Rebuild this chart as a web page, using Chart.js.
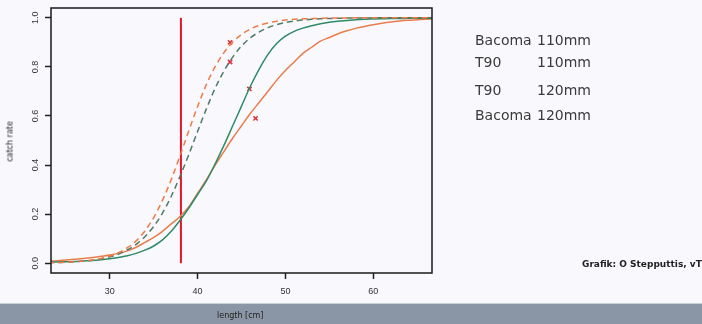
<!DOCTYPE html>
<html>
<head>
<meta charset="utf-8">
<script src="https://cdn.jsdelivr.net/npm/chart.js@4"></script>
<style>
  body { margin: 0; background: #f9f9fd; }
  #wrap { position: relative; width: 702px; height: 324px; overflow: hidden; font-family: "DejaVu Sans", sans-serif; }
  #chart { position: absolute; left: 0; top: 0; }
  .leg { position: absolute; font-size: 14px; color: #3a3a3a; line-height: 14px; white-space: nowrap; }
  .band { position: absolute; left: 0; top: 303px; width: 702px; height: 21px; background: #8a96a5; border-top: 1px solid #c9cfd7; }
  .small { position: absolute; white-space: nowrap; color: #333; }
</style>
</head>
<body>
<div id="wrap">
  <div class="band"></div>
  <canvas id="chart" width="702" height="324"></canvas>
  <div class="leg" style="left:475px;top:33px">Bacoma</div><div class="leg" style="left:537px;top:33px">110mm</div>
  <div class="leg" style="left:475px;top:55px">T90</div><div class="leg" style="left:537px;top:55px">110mm</div>
  <div class="leg" style="left:475px;top:83px">T90</div><div class="leg" style="left:537px;top:83px">120mm</div>
  <div class="leg" style="left:475px;top:108px">Bacoma</div><div class="leg" style="left:537px;top:108px">120mm</div>
  <div class="small" style="left:582px;top:259px;font-size:9px;font-weight:bold;color:#222">Grafik: O Stepputtis, vTI</div>
  <div class="small" style="left:217px;top:311px;font-size:8px;color:#222">length [cm]</div>
  <div class="small" style="left:-14px;top:137px;font-size:8px;transform:rotate(-90deg);width:48px;text-align:center;color:#222">catch rate</div>
</div>
<script>
// length classes (cm) and read-off catch rates
const lengthCm = [23, 24, 25, 26, 27, 28, 29, 30, 31, 32, 33, 34, 35, 36, 37, 38, 39, 40, 41, 42, 43, 44, 45,
  46, 47, 48, 49, 50, 51, 52, 53, 54, 55, 56, 57, 58, 59, 60, 61, 62, 63, 64, 65, 66, 67];
const bacoma110 = [0.002, 0.003, 0.004, 0.006, 0.009, 0.013, 0.019, 0.029, 0.043, 0.063, 0.091, 0.131, 0.186, 0.256,
  0.341, 0.438, 0.540, 0.639, 0.728, 0.801, 0.858, 0.901, 0.932, 0.954, 0.969, 0.979, 0.986, 0.991, 0.994, 0.996,
  0.997, 0.998, 0.999, 0.999, 0.999, 1, 1, 1, 1, 1, 1, 1, 1, 1, 1];
const t90_110 = [0.002, 0.003, 0.004, 0.006, 0.009, 0.012, 0.018, 0.026, 0.037, 0.054, 0.077, 0.108, 0.150, 0.204,
  0.273, 0.354, 0.443, 0.537, 0.629, 0.713, 0.783, 0.840, 0.885, 0.918, 0.942, 0.960, 0.972, 0.981, 0.987, 0.991,
  0.994, 0.996, 0.997, 0.998, 0.999, 0.999, 0.999, 1, 1, 1, 1, 1, 1, 1, 1];
const t90_120 = [0.004, 0.005, 0.006, 0.007, 0.009, 0.011, 0.014, 0.018, 0.023, 0.030, 0.040, 0.053, 0.070, 0.095,
  0.130, 0.175, 0.225, 0.280, 0.335, 0.405, 0.480, 0.560, 0.640, 0.720, 0.790, 0.850, 0.895, 0.925, 0.945, 0.958,
  0.968, 0.976, 0.982, 0.986, 0.989, 0.992, 0.994, 0.995, 0.996, 0.997, 0.997, 0.998, 0.998, 0.998, 0.999];
const bacoma120 = [0.008, 0.010, 0.013, 0.016, 0.019, 0.023, 0.028, 0.033, 0.040, 0.050, 0.065, 0.085, 0.105, 0.130,
  0.160, 0.190, 0.230, 0.285, 0.340, 0.400, 0.455, 0.510, 0.560, 0.610, 0.655, 0.700, 0.745, 0.785, 0.820, 0.855,
  0.880, 0.905, 0.920, 0.935, 0.947, 0.957, 0.965, 0.972, 0.978, 0.983, 0.987, 0.990, 0.992, 0.994, 0.995];
const markLength = [43.7, 43.7, 45.9, 46.6];
const markRate = [0.90, 0.82, 0.71, 0.59];
const minLength = 38.1; // red vertical line

const pts = (ys) => lengthCm.map((x, i) => ({ x, y: ys[i] }));
const curve = (data, color, dash) => ({
  data: pts(data), borderColor: color, borderWidth: 1.5, borderDash: dash || [],
  pointRadius: 0, cubicInterpolationMode: 'monotone', fill: false
});

const frame = {
  id: 'frame',
  afterDraw(chart) {
    const { ctx, chartArea: a, scales: { y } } = chart;
    ctx.save();
    ctx.strokeStyle = '#1a1a1a';
    ctx.lineWidth = 1.5;
    ctx.strokeRect(a.left, a.top, a.right - a.left, a.bottom - a.top);
    ctx.font = '9px "Liberation Sans"';
    ctx.fillStyle = '#333';
    ctx.textAlign = 'center';
    ctx.textBaseline = 'middle';
    y.ticks.forEach(t => {
      ctx.save();
      ctx.translate(36, y.getPixelForValue(t.value));
      ctx.rotate(-Math.PI / 2);
      ctx.fillText(t.value.toFixed(1), 0, 0);
      ctx.restore();
    });
    ctx.restore();
  }
};

new Chart(document.getElementById('chart'), {
  type: 'line',
  data: {
    datasets: [
      curve(bacoma110, '#ee7b45', [6, 4]),
      curve(t90_110, '#4f7a68', [6, 4]),
      curve(t90_120, '#2e8a68'),
      curve(bacoma120, '#e87d4c'),
      {
        data: [{ x: minLength, y: 0 }, { x: minLength, y: 1 }],
        borderColor: '#e3142c', borderWidth: 2, pointRadius: 0
      },
      {
        type: 'scatter',
        data: markLength.map((x, i) => ({ x, y: markRate[i] })),
        pointStyle: 'crossRot', pointRadius: 3, borderWidth: 1.5,
        borderColor: '#d8303a', backgroundColor: '#d8303a'
      }
    ]
  },
  options: {
    responsive: false,
    animation: false,
    events: [],
    layout: { padding: { left: 0, top: 8, right: 270, bottom: 0 } },
    plugins: { legend: { display: false }, tooltip: { enabled: false } },
    scales: {
      x: {
        type: 'linear', min: 23.3, max: 66.7,
        afterFit: (s) => { s.height = 51; },
        border: { display: false },
        grid: { drawOnChartArea: false, tickLength: 6, tickColor: '#222', tickWidth: 1.5 },
        ticks: { stepSize: 10, includeBounds: false, padding: 7, color: '#333',
          font: { family: 'Liberation Sans', size: 9 } }
      },
      y: {
        type: 'linear', min: -0.04, max: 1.04,
        afterFit: (s) => { s.width = 51; },
        border: { display: false },
        grid: { drawOnChartArea: false, tickLength: 6, tickColor: '#222', tickWidth: 1.5 },
        ticks: { stepSize: 0.2, includeBounds: false, display: false }
      }
    }
  },
  plugins: [frame]
});
</script>
</body>
</html>
